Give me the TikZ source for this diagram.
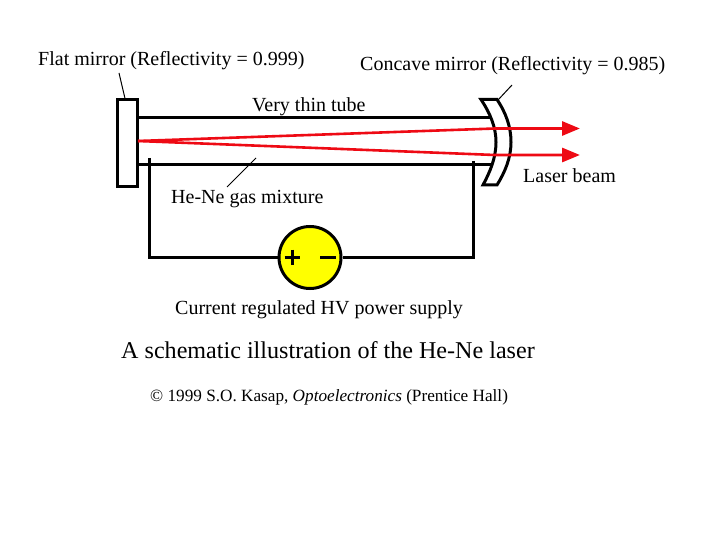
\documentclass[tikz,border=0pt]{standalone}
\usepackage{fontspec}
\setmainfont{Liberation Serif}
\definecolor{beamred}{RGB}{238,10,20}
\definecolor{supply}{RGB}{255,255,0}
\usetikzlibrary{arrows.meta}
\tikzset{
  lbl/.style={inner sep=0pt,anchor=base west,text=black,font=\fontsize{#1}{#1}\selectfont},
  wire/.style={line width=3pt,black},
  leader/.style={line width=1pt,black},
  beam/.style={line width=2.6pt,beamred},
  beamtip/.style={beamred,-{Triangle[length=18pt,width=14pt]},line width=3pt}
}
\begin{document}
\begin{tikzpicture}[x=1pt,y=-1pt]
\useasboundingbox (0,0) rectangle (720,540);
\node[lbl=20] (flat) at (38,66) {Flat mirror (Reflectivity = 0.999)};
\node[lbl=20] (conc) at (360,71) {Concave mirror (Reflectivity = 0.985)};
\node[lbl=20] (tube) at (252,111.5) {Very thin tube};
\node[lbl=20] (gas) at (171,204) {He-Ne gas mixture};
\node[lbl=20] (lasr) at (523,183) {Laser beam};
\node[lbl=20] (psu) at (175,314) {Current regulated HV power supply};
\node[lbl=24.1] (title) at (121,358) {A schematic illustration of the He-Ne laser};
\node[lbl=17.2] (copy) at (150,401) {© 1999 S.O. Kasap, \textit{Optoelectronics} (Prentice Hall)};
% tube
\coordinate (tl) at (137,118); \coordinate (tr) at (490,118);
\coordinate (bl) at (137,165); \coordinate (br) at (493,165);
\draw[wire] (tl) -- (tr);
\draw[wire] (bl) -- (br);
% mirrors
\node[draw=black,wire,fill=white,minimum width=20pt,minimum height=87pt,inner sep=0pt] (fm) at (127,143.5) {};
\draw[wire,line join=miter] (481,99.5) -- (497,99.5) .. controls (506,113) and (511,127) .. (511,142)
  .. controls (511,158) and (505,172) .. (497,185) -- (483,185)
  .. controls (490,172) and (496,158) .. (496,142)
  .. controls (496,127) and (490,113) .. (481,99.5) -- cycle;
% beam
\coordinate (bs) at (138,141);
\coordinate (u) at (562,128.5); \coordinate (d) at (562,155);
\coordinate (ut) at (580,128.5); \coordinate (dt) at (580,155);
\draw[beam] (bs) -- (495,128.5) -- (u);
\draw[beam] (bs) -- (495,155) -- (d);
\draw[beamtip] (u) -- (ut);
\draw[beamtip] (d) -- (dt);
% supply
\node[circle,draw=black,wire,fill=supply,minimum size=62pt,inner sep=0pt] (ps) at (310,257.5) {};
\coordinate (wl) at (149,158); \coordinate (wr) at (473,161);
\draw[wire] (wl) -- (149,257.5) -- (ps.west);
\draw[wire] (wr) -- (473,257.5) -- (ps.east);
\draw[line width=3pt] (284.5,257) -- (299.5,257) (292,249.5) -- (292,264.5);
\draw[line width=3pt] (320,257.5) -- (336,257.5);
% leaders
\coordinate (fa) at (119,73); \coordinate (ca) at (512,85); \coordinate (ga) at (227,187);
\draw[leader] (fa) -- (fm.north west -| 125,100);
\draw[leader] (ca) -- (498,100);
\draw[leader] (ga) -- (256,158);
\end{tikzpicture}
\end{document}
